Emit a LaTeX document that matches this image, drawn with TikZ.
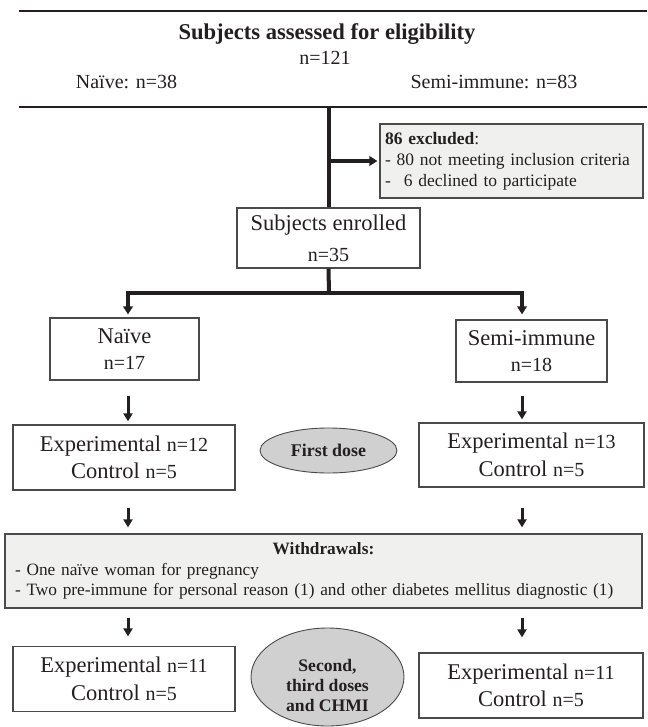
\documentclass[tikz,border=0pt]{standalone}
\usepackage{fontspec}
\setmainfont{Liberation Serif}
\usetikzlibrary{arrows.meta,shapes.geometric}
\definecolor{ink}{HTML}{231F20}
\definecolor{boxline}{HTML}{4A4A4A}
\definecolor{panel}{HTML}{F0F1EF}
\definecolor{ellfill}{HTML}{D0D0D0}
\newcommand\nsm[1]{{\fontsize{20}{27.5}\selectfont #1}}
\begin{document}
\begin{tikzpicture}[x=1pt,y=-1pt,
  every node/.style={text=ink},
  box/.style={draw=boxline, line width=1.2pt, inner sep=0pt, align=center, font=\fontsize{22.5}{27.5}\selectfont},
  greybox/.style={draw=boxline, line width=1.2pt, fill=panel, align=left, inner xsep=5pt, inner ysep=0pt, font=\fontsize{17.5}{21}\selectfont},
  oval/.style={ellipse, draw=boxline, line width=0.9pt, fill=ellfill, inner sep=0pt},
  ovaltext/.style={align=center, font=\bfseries\fontsize{17.6}{20}\selectfont},
  headtext/.style={anchor=base, font=\fontsize{20}{24}\selectfont},
  hbar/.style={draw=ink, line width=2.3pt},
  trunk/.style={draw=ink, line width=4pt},
  trunkarr/.style={draw=ink, line width=3.6pt, -{Triangle[length=8pt,width=9.5pt]}, shorten >=2pt},
  varr/.style={draw=ink, line width=3pt, -{Triangle[length=8pt,width=9pt]}}
]
\useasboundingbox (0,0) rectangle (647,727);

% header
\coordinate (r1a) at (19,11); \coordinate (r1b) at (647,11);
\coordinate (r2a) at (19,107); \coordinate (r2b) at (647,107);
\draw[hbar] (r1a) -- (r1b);
\draw[hbar] (r2a) -- (r2b);
\node[anchor=base, font=\bfseries\fontsize{22.6}{27}\selectfont] (title) at (327,40) {Subjects assessed for eligibility};
\node[headtext] (total) at (325,65) {n=121};
\node[headtext] (naiveall) at (126.5,89) {Naïve: n=38};
\node[headtext] (semiall) at (494,89) {Semi-immune: n=83};

% boxes
\node[greybox, text width=253pt, minimum height=74pt] (excl) at (511.5,161)
  {\textbf{86 excluded}:\\- 80 not meeting inclusion criteria\\-\hspace{13pt}6 declined to participate};
\node[box, minimum width=183pt, minimum height=60pt, font=\fontsize{22.5}{31}\selectfont] (enrolled) at (328.5,238)
  {Subjects enrolled\\{\fontsize{20}{31}\selectfont n=35}};
\node[box, minimum width=149pt, minimum height=62pt, font=\fontsize{22.5}{26}\selectfont] (naive) at (124.5,349)
  {Naïve\\{\fontsize{20}{26}\selectfont n=17}};
\node[box, minimum width=151pt, minimum height=62pt, font=\fontsize{22.5}{26}\selectfont] (semi) at (531.5,351)
  {Semi-immune\\{\fontsize{20}{26}\selectfont n=18}};
\node[box, minimum width=222pt, minimum height=65pt] (exp1) at (124,457.5)
  {Experimental \nsm{n=12}\\Control \nsm{n=5}};
\node[box, minimum width=225pt, minimum height=64pt] (exp2) at (531.5,455)
  {Experimental \nsm{n=13}\\Control \nsm{n=5}};
\node[greybox, inner xsep=10pt, text width=617pt, minimum height=74pt, font=\fontsize{17.3}{20.5}\selectfont] (wd) at (323.5,571)
  {\makebox[617pt][c]{\textbf{Withdrawals:}}\\- One naïve woman for pregnancy\\- Two pre-immune for personal reason (1) and other diabetes mellitus diagnostic (1)};
\node[box, minimum width=222pt, minimum height=65pt] (fin1) at (124,679)
  {Experimental \nsm{n=11}\\Control \nsm{n=5}};
\node[box, minimum width=224pt, minimum height=65pt] (fin2) at (531,685.5)
  {Experimental \nsm{n=11}\\Control \nsm{n=5}};

% ovals
\node[oval, minimum width=137pt, minimum height=45pt, font=\bfseries\fontsize{17.9}{20}\selectfont] (dose1) at (328.5,450.5) {First dose};
\node[oval, minimum width=153pt, minimum height=98pt] (dose2) at (327.5,677) {};
\node[ovaltext] (dose2txt) at (327.5,685) {Second,\\third doses\\and CHMI};

% connectors
\coordinate (colL) at (128,0);
\coordinate (colR) at (522,0);
\coordinate (split) at (329,293);
\draw[trunk] (enrolled.north |- r2a) -- (enrolled.north);
\draw[trunkarr] (enrolled.north |- excl.west) -- (excl.west);
\draw[trunk] (enrolled.south) -- (split);
\draw[trunkarr, shorten >=3pt] (split) -| (naive.north -| colL);
\draw[trunkarr, shorten >=5pt] (split) -| (semi.north -| colR);

\draw[varr, shorten <=15pt, shorten >=3pt] (naive.south -| colL) -- (exp1.north -| colL);
\draw[varr, shorten <=13pt, shorten >=3pt] (semi.south -| colR) -- (exp2.north -| colR);
\draw[varr, shorten <=17pt, shorten >=6pt] (exp1.south -| colL) -- (wd.north -| colL);
\draw[varr, shorten <=20pt, shorten >=6pt] (exp2.south -| colR) -- (wd.north -| colR);
\draw[varr, shorten <=9pt, shorten >=9.5pt] (wd.south -| colL) -- (fin1.north -| colL);
\draw[varr, shorten <=9pt, shorten >=15pt] (wd.south -| colR) -- (fin2.north -| colR);
\end{tikzpicture}
\end{document}
